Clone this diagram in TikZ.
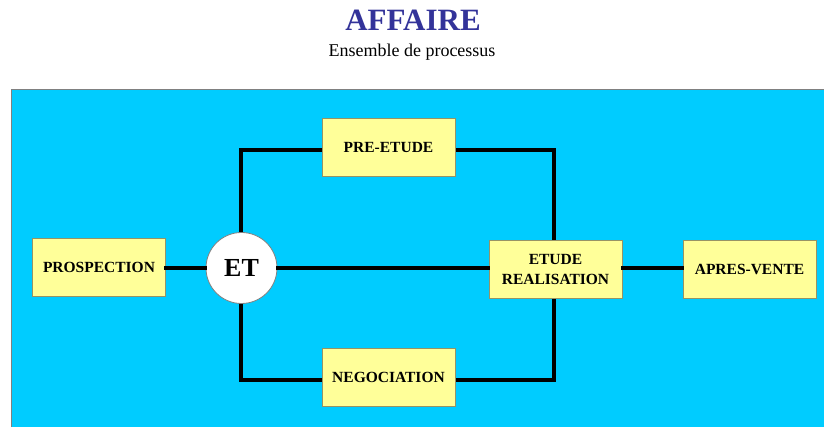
\documentclass[tikz,border=0pt]{standalone}
\usepackage{fontspec}
\setmainfont{Liberation Serif}
\begin{document}
\begin{tikzpicture}[x=1pt,y=-1pt,
  proc/.style={draw=black!45!yellow!60!gray, line width=0.8pt, fill=boxyellow, minimum width=133pt, minimum height=58pt, inner sep=0pt, align=center, font=\fontsize{15.5}{20}\selectfont\bfseries, text=black},
  conn/.style={line width=3.2pt, black, line cap=rect}]
\definecolor{boxyellow}{HTML}{FFFF99}
\definecolor{panelcyan}{HTML}{00CCFF}
\definecolor{titleblue}{HTML}{333399}
\clip (0,0) rectangle (824,427);
\fill[white] (0,0) rectangle (824,427);
\fill[panelcyan] (11,90) rectangle (840,440);
\draw[gray, line width=1pt] (11,440) -- (11,90) -- (840,90);
\node[font=\fontsize{31}{36}\selectfont\bfseries, text=titleblue] (title) at (413,20) {AFFAIRE};
\node[font=\fontsize{18}{22}\selectfont] (sub) at (412,52) {Ensemble de processus};
% coordinates of connector corners
\coordinate (tl) at (241,150);
\coordinate (tr) at (554,150);
\coordinate (bl) at (241,380);
\coordinate (br) at (554,380);
\draw[conn] (tl) -- (bl);
\draw[conn] (tl) -- (tr);
\draw[conn] (bl) -- (br);
\draw[conn] (tr) -- (br);
\node[proc] (pros) at (99,267.5) {PROSPECTION};
\node[proc] (pre) at (388.5,147) {PRE-ETUDE};
\node[proc] (neg) at (388.5,377) {NEGOCIATION};
\node[proc] (etr) at (555.5,269.5) {ETUDE\\REALISATION};
\node[proc] (apv) at (749.5,269.5) {APRES-VENTE};
\node[circle, draw=gray, line width=0.8pt, fill=white, minimum size=71pt, inner sep=0pt, font=\fontsize{26}{30}\selectfont\bfseries, text=black] (et) at (241.5,268) {ET};
\draw[conn] (pros.east |- 0,268) -- (et.west);
\draw[conn] (et.east) -- (etr.west |- 0,268);
\draw[conn] (etr.east |- 0,268) -- (apv.west |- 0,268);
\end{tikzpicture}
\end{document}
